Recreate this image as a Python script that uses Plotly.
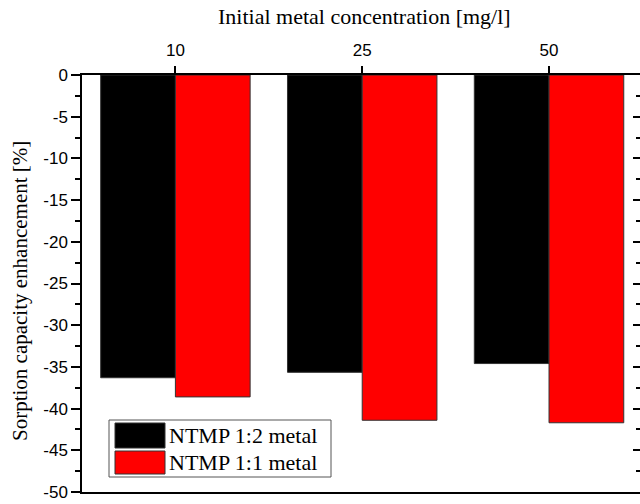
import plotly.graph_objects as go

categories = ["10", "25", "50"]
ntmp_12 = [-36.3, -35.65, -34.6]
ntmp_11 = [-38.6, -41.4, -41.7]
series_names = ["NTMP 1:2 metal", "NTMP 1:1 metal"]
series_colors = ["#000000", "#ff0000"]
y_ticks = [0, -5, -10, -15, -20, -25, -30, -35, -40, -45, -50]
y_tick_text = ["0", "-5", "-10", "-15", "-20", "-25", "-30", "-35", "-40", "-45", "-50"]
x_title = "Initial metal concentration [mg/l]"
y_title = "Sorption capacity enhancement [%]"

W, H = 640, 504
L, R, T, B = 82, 0, 75, 12
pw, ph = W - L - R, H - T - B

def px(x):
    return (x - L) / pw

def py(y):
    return (H - B - y) / ph

fig = go.Figure()
for name, vals, col in zip(series_names, [ntmp_12, ntmp_11], series_colors):
    fig.add_trace(go.Bar(
        x=list(range(len(categories))), y=vals, name=name,
        marker=dict(color=col, line=dict(color="#333333", width=1)),
        showlegend=False,
    ))

serif = "Liberation Serif, Times New Roman, serif"
sans = "Liberation Sans, Arial, sans-serif"

fig.update_layout(
    width=W, height=H,
    margin=dict(l=L, r=R, t=T, b=B, pad=0),
    paper_bgcolor="white", plot_bgcolor="white",
    barmode="group", bargap=0.2, bargroupgap=0,
    xaxis=dict(
        side="top", range=[-0.5, 2.487],
        tickmode="array", tickvals=list(range(len(categories))), ticktext=categories,
        ticks="outside", ticklen=7, tickwidth=1.5, tickcolor="black",
        showline=True, linecolor="black", linewidth=1.5, mirror=True,
        showgrid=False, zeroline=False, ticklabelstandoff=3,
        tickfont=dict(family=sans, size=17, color="black"),
    ),
    yaxis=dict(
        range=[-50, 0], tickmode="array", tickvals=y_ticks, ticktext=y_tick_text,
        ticks="outside", ticklen=9, tickwidth=1.5, tickcolor="black",
        minor=dict(dtick=2.5, ticks="outside", ticklen=5, tickwidth=1.5, tickcolor="black"),
        showline=True, linecolor="black", linewidth=1.5,
        showgrid=False, zeroline=False,
        tickfont=dict(family=sans, size=17, color="black"),
    ),
    yaxis2=dict(
        overlaying="y", side="right", range=[-50, 0], tickvals=y_ticks,
        ticks="inside", ticklen=7, tickwidth=1.5, tickcolor="black",
        minor=dict(dtick=2.5, ticks="inside", ticklen=4, tickwidth=1.5, tickcolor="black"),
        showticklabels=False, showgrid=False, zeroline=False,
        showline=True, linecolor="black", linewidth=1.5,
    ),
)

# invisible trace to activate the mirrored right axis
fig.add_trace(go.Scatter(x=[0], y=[-25], yaxis="y2", mode="markers",
                         marker=dict(opacity=0), showlegend=False, hoverinfo="skip"))

# axis titles
fig.add_annotation(xref="paper", yref="paper", x=px(364), y=py(17), text=x_title,
                   showarrow=False, xanchor="center", yanchor="middle",
                   font=dict(family=serif, size=22, color="black"))
fig.add_annotation(xref="paper", yref="paper", x=px(20), y=py(291), text=y_title,
                   showarrow=False, xanchor="center", yanchor="middle", textangle=-90,
                   font=dict(family=serif, size=21, color="black"))

# custom legend (layout, in paper coordinates)
shapes = [
    dict(type="rect", xref="paper", yref="paper", x0=px(109), x1=px(331), y0=py(477), y1=py(420),
         line=dict(color="#555555", width=1), fillcolor="white", layer="above"),
    dict(type="rect", xref="paper", yref="paper", x0=px(115), x1=px(165), y0=py(448), y1=py(423),
         line=dict(color="#333333", width=1), fillcolor=series_colors[0], layer="above"),
    dict(type="rect", xref="paper", yref="paper", x0=px(115), x1=px(165), y0=py(474), y1=py(451),
         line=dict(color="#333333", width=1), fillcolor=series_colors[1], layer="above"),
]
fig.update_layout(shapes=shapes)
for name, yc in zip(series_names, [435.5, 462.5]):
    fig.add_annotation(xref="paper", yref="paper", x=px(167), y=py(yc), text=name,
                       showarrow=False, xanchor="left", yanchor="middle",
                       font=dict(family=serif, size=22, color="black"))

fig.write_html("out.html")
